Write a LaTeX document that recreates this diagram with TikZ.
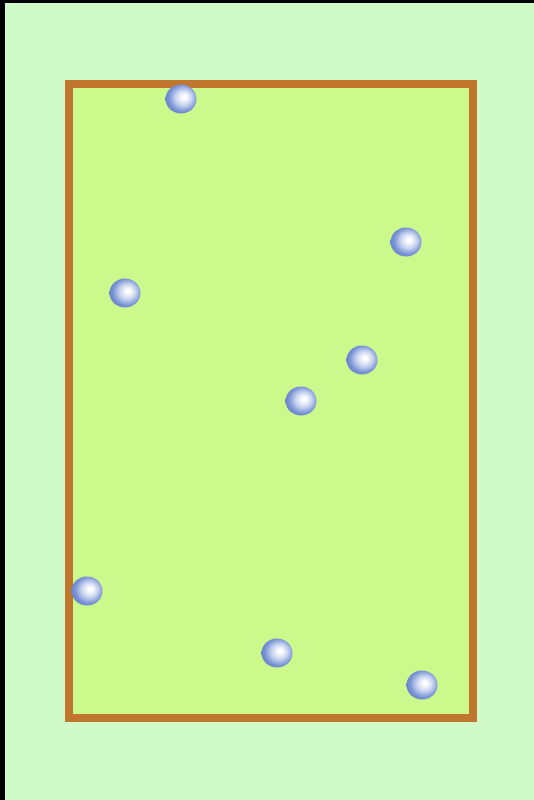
\documentclass[tikz,border=0pt]{standalone}
\definecolor{bgc}{RGB}{208,251,200}
\definecolor{innerc}{RGB}{204,249,140}
\definecolor{framec}{RGB}{192,118,44}
\definecolor{ballc}{RGB}{118,146,214}
\pgfdeclareradialshading{myball}{\pgfpoint{5bp}{4bp}}{%
color(0bp)=(white); color(3bp)=(white); color(13bp)=(ballc!40!white);
color(23bp)=(ballc); color(28bp)=(ballc!92!black); color(50bp)=(ballc!92!black)}
\tikzset{
  ballst/.style={shading=myball, draw=none},
  framest/.style={draw=framec, line width=8pt, fill=innerc}
}
\begin{document}
\begin{tikzpicture}[x=1pt,y=-1pt]
\useasboundingbox (0,0) rectangle (534,800);
\fill[black] (0,0) rectangle (534,800);
\fill[bgc] (5,3) rectangle (534,800);
\draw[framest] (69,84) rectangle (473,718);
\foreach \n/\x/\y in {b1/181/99, b2/406/242, b3/125/293, b4/362/360, b5/301/401, b6/87/591, b7/277/653, b8/422/685}{
  \path[ballst] (\x,\y) ellipse [x radius=15.5, y radius=14.5];
}
\end{tikzpicture}
\end{document}
